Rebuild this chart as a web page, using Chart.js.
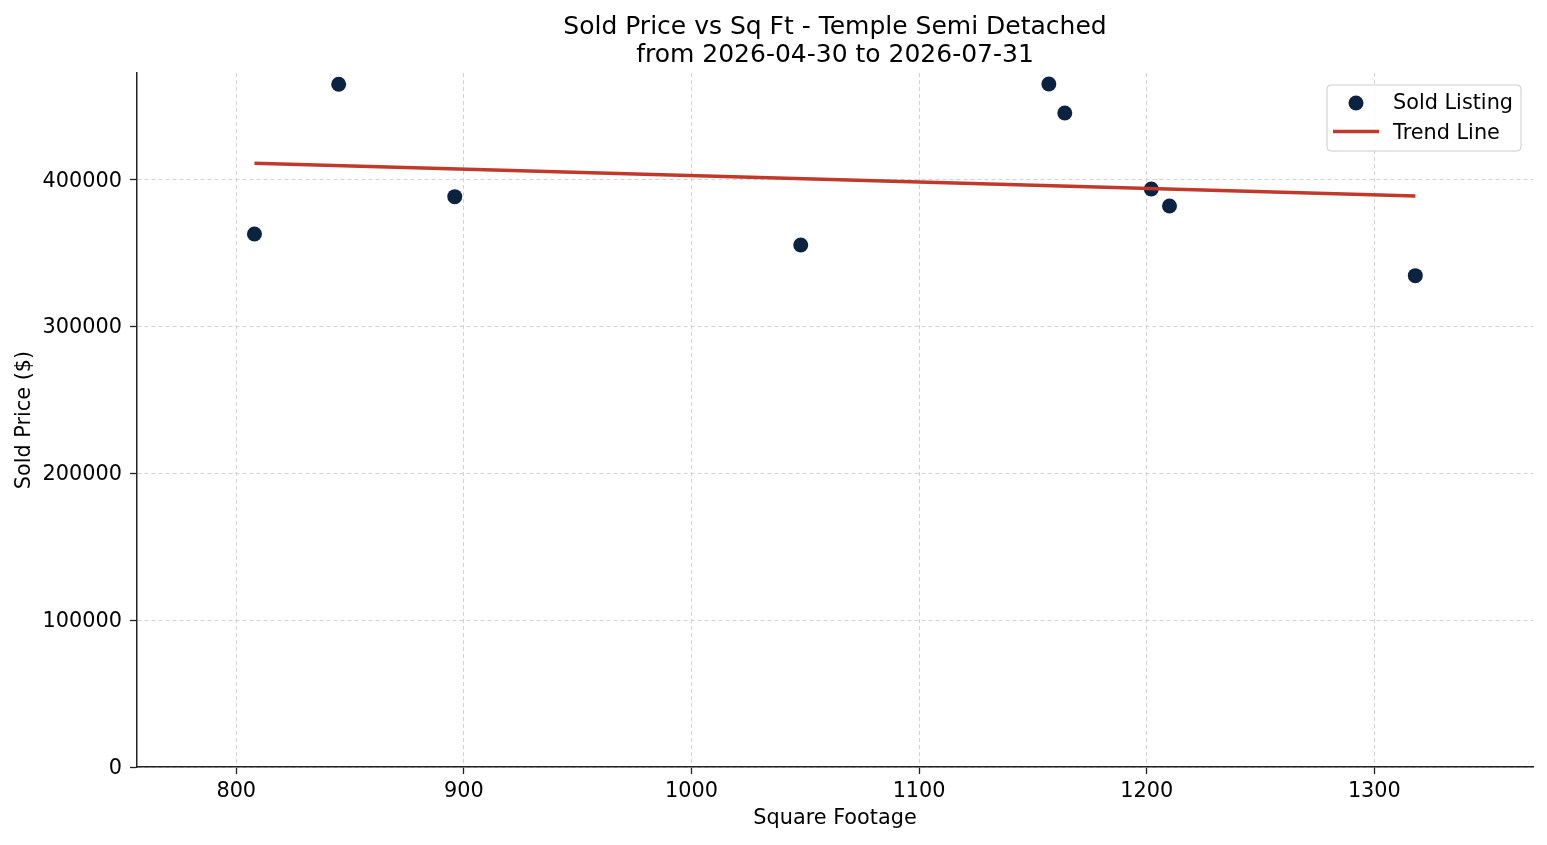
<!DOCTYPE html>
<html>
<head>
<meta charset="utf-8">
<script src="https://cdn.jsdelivr.net/npm/chart.js@4/dist/chart.umd.min.js"></script>
<style>html,body{margin:0;padding:0;background:#fff}</style>
</head>
<body>
<canvas id="chart" width="1547" height="845"></canvas>
<script>
const sqft = [808, 845, 896, 1048, 1157, 1164, 1202, 1210, 1318];
const soldPrice = [363000, 464900, 388400, 355500, 465100, 445400, 393600, 382000, 334600];
const trendSqft = [808, 1318];
const trendPrice = [411100, 388800];
const xTicks = [800, 900, 1000, 1100, 1200, 1300];
const yTicks = [0, 100000, 200000, 300000, 400000];
const titleLines = ['Sold Price vs Sq Ft - Temple Semi Detached', 'from 2026-04-30 to 2026-07-31'];

const navy = '#0b2341'
const red = '#c0392b'
const family = "'DejaVu Sans', sans-serif"
const font = {family: family, size: 20.8}

// title + in-plot legend, drawn like matplotlib does
const extras = {
  id: 'extras',
  afterDraw(chart) {
    const ctx = chart.ctx
    const area = chart.chartArea
    ctx.save()
    ctx.fillStyle = '#000'
    ctx.font = '25px ' + family
    ctx.textAlign = 'center'
    ctx.textBaseline = 'alphabetic'
    const cx = (area.left + area.right) / 2
    ctx.fillText(titleLines[0], cx, 34)
    ctx.fillText(titleLines[1], cx, 62)

    // legend box
    const bx = 1327, by = 85, bw = 194, bh = 66, r = 4
    ctx.beginPath()
    ctx.moveTo(bx + r, by)
    ctx.arcTo(bx + bw, by, bx + bw, by + bh, r)
    ctx.arcTo(bx + bw, by + bh, bx, by + bh, r)
    ctx.arcTo(bx, by + bh, bx, by, r)
    ctx.arcTo(bx, by, bx + bw, by, r)
    ctx.closePath()
    ctx.fillStyle = 'rgba(255,255,255,0.8)'
    ctx.fill()
    ctx.strokeStyle = '#cccccc'
    ctx.lineWidth = 1
    ctx.stroke()

    const ds = chart.data.datasets
    ctx.fillStyle = navy
    ctx.beginPath()
    ctx.arc(1356, 103, 7.5, 0, Math.PI * 2)
    ctx.fill()
    ctx.strokeStyle = red
    ctx.lineWidth = 3.5
    ctx.beginPath()
    ctx.moveTo(1333, 131.5)
    ctx.lineTo(1379, 131.5)
    ctx.stroke()

    ctx.fillStyle = '#000'
    ctx.font = '20.8px ' + family
    ctx.textAlign = 'left'
    ctx.fillText(ds[0].label, 1393, 109)
    ctx.fillText(ds[1].label, 1393, 138.5)
    ctx.restore()
  }
}

const ctx = document.getElementById('chart').getContext('2d')
new Chart(ctx, {
  type: 'scatter',
  data: {
    datasets: [
      {
        label: 'Sold Listing',
        data: sqft.map((x, i) => ({x: x, y: soldPrice[i]})),
        backgroundColor: navy,
        borderWidth: 0,
        pointRadius: 7.5,
        pointHoverRadius: 7.5,
        order: 1
      },
      {
        type: 'line',
        label: 'Trend Line',
        data: trendSqft.map((x, i) => ({x: x, y: trendPrice[i]})),
        borderColor: red,
        borderWidth: 3.5,
        pointRadius: 0,
        fill: false,
        order: 0
      }
    ]
  },
  options: {
    responsive: false,
    animation: false,
    devicePixelRatio: 1,
    layout: {padding: {top: 73, right: 14, left: 0, bottom: 0}},
    plugins: {
      legend: {display: false},
      tooltip: {enabled: false},
      title: {display: false}
    },
    scales: {
      x: {
        type: 'linear',
        min: 756.4,
        max: 1369.7,
        afterBuildTicks: s => { s.ticks = xTicks.map(v => ({value: v})) },
        afterFit: s => { s.height = 78 },
        ticks: {font: font, color: '#000', padding: 5, maxRotation: 0, callback: v => String(v)},
        grid: {color: '#d2d2d2', lineWidth: 1, tickLength: 7, tickColor: '#222', tickWidth: 1.3},
        border: {color: '#222', width: 1.5, dash: [4, 3]},
        title: {display: true, text: 'Square Footage', font: font, color: '#000', padding: {top: 0, bottom: 14}}
      },
      y: {
        type: 'linear',
        min: 0,
        max: 472600,
        afterBuildTicks: s => { s.ticks = yTicks.map(v => ({value: v})) },
        afterFit: s => { s.width = 137 },
        ticks: {font: font, color: '#000', padding: 8, labelOffset: 1.5, callback: v => String(v)},
        grid: {color: '#d2d2d2', lineWidth: 1, tickLength: 7, tickColor: '#222', tickWidth: 1.3},
        border: {color: '#222', width: 1.5, dash: [4, 3]},
        title: {display: true, text: 'Sold Price ($)', font: font, color: '#000', padding: {top: 12, bottom: 0}}
      }
    }
  },
  plugins: [extras]
})
</script>
</body>
</html>
